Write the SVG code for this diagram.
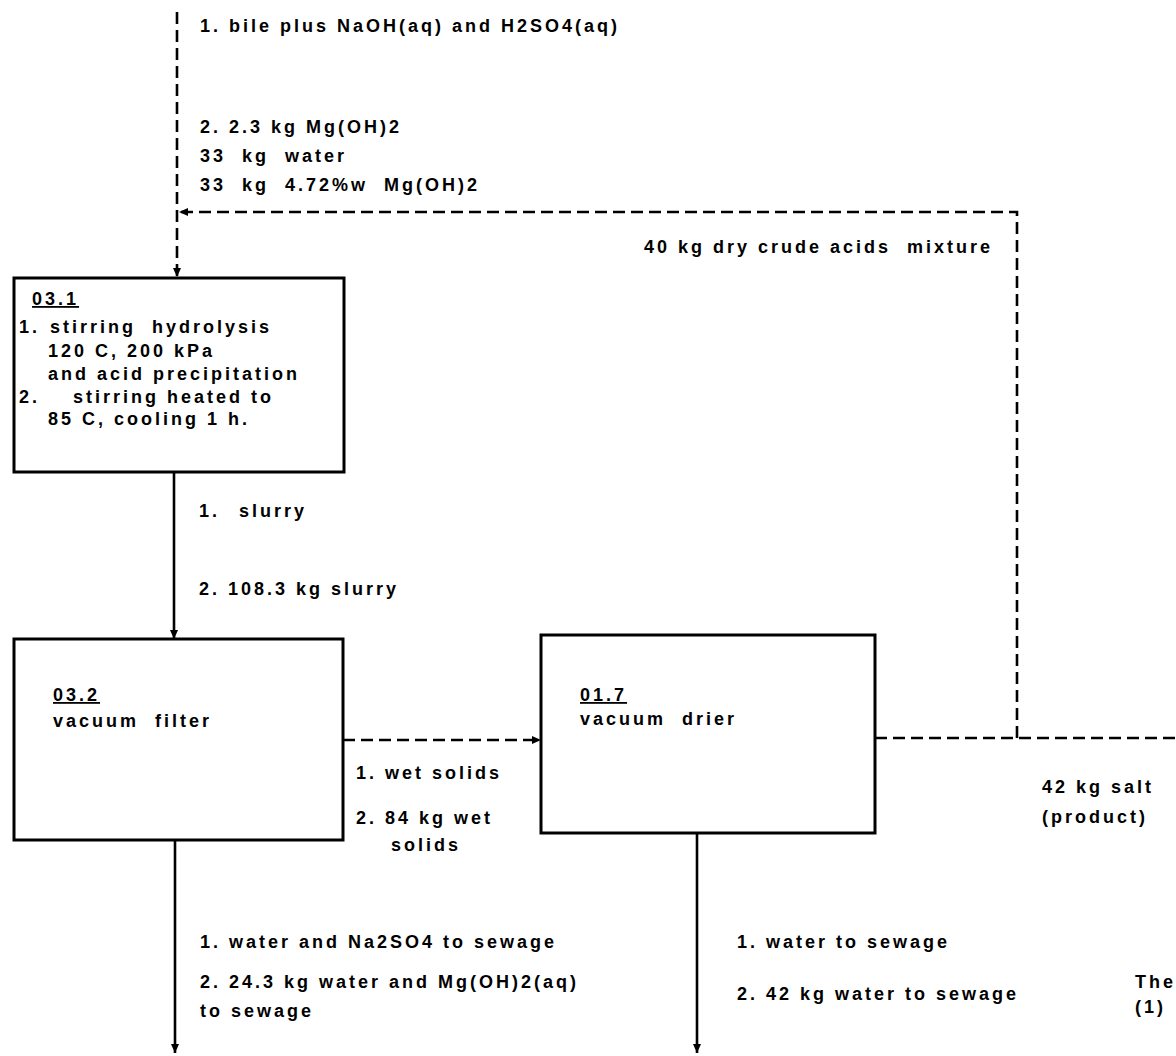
<svg xmlns="http://www.w3.org/2000/svg" width="1176" height="1056" viewBox="0 0 1176 1056">
  <style>
    .t { font-family: "Liberation Sans", Arial, Helvetica, sans-serif; font-weight: bold; font-size: 18px; letter-spacing: 3px; white-space: pre; fill: #000; }
    .u { text-decoration: underline; }
    .box { fill: #fff; stroke: #000; stroke-width: 3; }
    .solid { fill: none; stroke: #000; stroke-width: 2.6; }
    .dash { fill: none; stroke: #000; stroke-width: 2.6; stroke-dasharray: 12 6; }
  </style>
  <defs>
    <marker id="arrow" markerUnits="userSpaceOnUse" markerWidth="10" markerHeight="10" refX="9" refY="5" orient="auto">
      <path d="M0,1 L9,5 L0,9 z" fill="#000"/>
    </marker>
  </defs>
  <rect width="1176" height="1056" fill="#fff"/>

  <!-- flow lines -->
  <g id="connectors">
    <path id="feed" class="dash" d="M177,12 V277" marker-end="url(#arrow)"/>
    <path id="recycle" class="dash" d="M1017,738 V212 H179" marker-end="url(#arrow)"/>
    <path id="slurry" class="solid" d="M174,472 V639" marker-end="url(#arrow)"/>
    <path id="wet-solids" class="dash" d="M343,740 H541" marker-end="url(#arrow)"/>
    <path id="product" class="dash" d="M875,738 H1176"/>
    <path id="filtrate" class="solid" d="M175,840 V1053" marker-end="url(#arrow)"/>
    <path id="vapour" class="solid" d="M697,833 V1053" marker-end="url(#arrow)"/>
  </g>

  <!-- stream labels -->
  <g id="labels">
    <text class="t" x="200" y="32">1. bile plus NaOH(aq) and H2SO4(aq)</text>
    <text class="t" x="200" y="133">2. 2.3 kg Mg(OH)2</text>
    <text class="t" x="200" y="162">33  kg  water</text>
    <text class="t" x="200" y="191">33  kg  4.72%w  Mg(OH)2</text>
    <text class="t" x="644" y="253">40 kg dry crude acids  mixture</text>
    <text class="t" x="199" y="517">1.<tspan x="239">slurry</tspan></text>
    <text class="t" x="199" y="595">2. 108.3 kg slurry</text>
    <text class="t" x="356" y="779">1. wet solids</text>
    <text class="t" x="356" y="824">2. 84 kg wet</text>
    <text class="t" x="391" y="851">solids</text>
    <text class="t" x="1042" y="793">42 kg salt</text>
    <text class="t" x="1042" y="823">(product)</text>
    <text class="t" x="200" y="948">1. water and Na2SO4 to sewage</text>
    <text class="t" x="200" y="988">2. 24.3 kg water and Mg(OH)2(aq)</text>
    <text class="t" x="200" y="1017">to sewage</text>
    <text class="t" x="737" y="948">1. water to sewage</text>
    <text class="t" x="737" y="1000">2. 42 kg water to sewage</text>
    <text class="t" x="1135" y="988">The</text>
    <text class="t" x="1135" y="1013">(1)</text>
  </g>

  <g id="n03-1">
    <rect class="box" x="14" y="278" width="330" height="194"/>
    <text class="t u" x="32" y="305">03.1</text>
    <text class="t" x="19" y="333">1.<tspan x="50">stirring  hydrolysis</tspan></text>
    <text class="t" x="48" y="357">120 C, 200 kPa</text>
    <text class="t" x="48" y="380">and acid precipitation</text>
    <text class="t" x="19" y="403">2.<tspan x="73">stirring heated to</tspan></text>
    <text class="t" x="48" y="425">85 C, cooling 1 h.</text>
  </g>

  <g id="n03-2">
    <rect class="box" x="14" y="639" width="329" height="201"/>
    <text class="t u" x="53" y="701">03.2</text>
    <text class="t" x="53" y="727">vacuum  filter</text>
  </g>

  <g id="n01-7">
    <rect class="box" x="541" y="635" width="334" height="198"/>
    <text class="t u" x="580" y="701">01.7</text>
    <text class="t" x="580" y="725">vacuum  drier</text>
  </g>
</svg>
